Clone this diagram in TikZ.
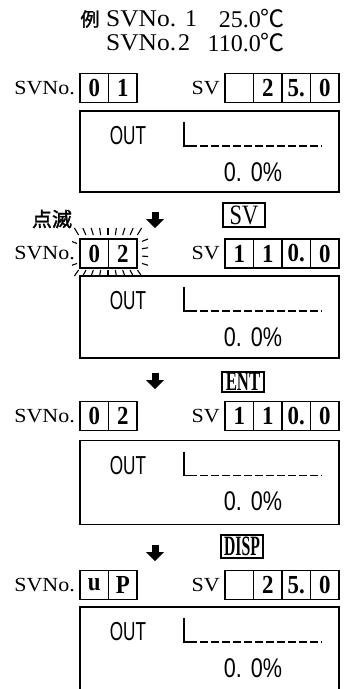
\documentclass[tikz,border=0pt]{standalone}
\usepackage{fontspec}
\usepackage{graphicx}
\setmainfont[FakeStretch=1.1]{Liberation Serif}
\newfontfamily\plainserif{Liberation Serif}
\newfontfamily\cellserif[FakeStretch=0.88]{Liberation Serif}
\newfontfamily\ttlserif[FakeStretch=1.06]{Liberation Serif}
\newfontfamily\lcd[FakeStretch=0.66]{Liberation Sans}
\newfontfamily\lcdnum[FakeStretch=0.8]{Liberation Sans}
\newfontfamily\cjk{Noto Sans CJK JP}
\newfontfamily\cjkb[FakeBold=1.5]{Noto Sans CJK JP}
\tikzset{
  cell/.style={draw, line width=1.2pt, minimum width=28.5pt, minimum height=29pt, inner sep=0pt,
    font=\cellserif\bfseries\fontsize{26}{26}\selectfont},
  disp/.style={draw, line width=1.3pt, minimum width=259pt, inner sep=0pt},
  btn/.style={draw, line width=1.2pt, minimum width=42pt, inner sep=0pt,
    font=\plainserif\fontsize{28}{28}\selectfont},
  rowlbl/.style={inner sep=0pt, font=\fontsize{20}{20}\selectfont},
  ttl/.style={inner sep=0pt, font=\ttlserif\fontsize{24}{24}\selectfont},
  ttlnum/.style={inner sep=0pt, font=\plainserif\fontsize{24}{24}\selectfont},
  outtxt/.style={inner sep=0pt, font=\lcd\fontsize{26}{26}\selectfont},
  pcttxt/.style={inner sep=0pt, font=\lcdnum\fontsize{27}{27}\selectfont},
  lbar/.style={line width=1.2pt},
  ldash/.style={line width=1.2pt, dash pattern=on 8pt off 3pt},
  tick/.style={line width=1.1pt},
  darrow/.pic={\fill (-3.5,0) rectangle (3.5,7); \fill (-9,7) -- (9,7) -- (0,16) -- cycle;}
}
\newcommand{\dispcontent}[2]{%
  \begin{scope}[shift={(80,#1)}]
    \node[outtxt] (o#2) at (48,25) {OUT};
    \draw[lbar] (104,11) -- (104,35) -- (117,35);
    \draw[ldash] (120,35) -- (242,35);
    \node[pcttxt] (p#2) at (173,61) {0.\,\,0\%};
  \end{scope}}
\newcommand{\svrow}[8]{%
  \node[rowlbl, anchor=east] (lbn#1) at (75,#2) {SVNo.};
  \node[cell] (a#1) at (94.25,#2) {#3};
  \node[cell] (b#1) at (122.75,#2) {#4};
  \node[rowlbl, anchor=east] (lbs#1) at (220,#2) {SV};
  \node[cell] (s#1a) at (239.25,#2) {#5};
  \node[cell] (s#1b) at (267.75,#2) {#6};
  \node[cell] (s#1c) at (296.25,#2) {#7};
  \node[cell] (s#1d) at (324.75,#2) {#8};}
\begin{document}
\begin{tikzpicture}[x=1pt, y=-1pt]
\useasboundingbox (0,0) rectangle (344,689);
% title
\node[inner sep=0pt, font=\cjkb\fontsize{19}{19}\selectfont] (ex) at (90,19) {例};
\node[ttl, anchor=west] (t1) at (106,19) {SVNo.};
\node[ttlnum] (n1) at (191,19) {1};
\node[ttlnum, anchor=east] (v1) at (285,19) {25.0{\cjk ℃}};
\node[ttl, anchor=west] (t2) at (106,43) {SVNo.};
\node[ttlnum] (n2) at (184,43) {2};
\node[ttlnum, anchor=east] (v2) at (285,43) {110.0{\cjk ℃}};
% row 1
\svrow{1}{88}{0}{1}{}{2}{5.}{0}
\node[disp, minimum height=81pt] (d1) at (209.5,151.5) {};
\dispcontent{111}{1}
% step 1
\pic at (155,212) {darrow};
\node[btn, minimum height=24pt] (k1) at (244,215) {\scalebox{0.8}[1]{SV}};
\node[inner sep=0pt, font=\cjkb\fontsize{20}{20}\selectfont] (blink) at (52,219) {点滅};
% row 2
\svrow{2}{253.5}{0}{2}{1}{1}{0.}{0}
\foreach \x in {80,87,94,101,108,115,122,129,136}
  \draw[tick] ({\x+(\x-108)*0.05},235) -- ({\x+(\x-108)*0.2},228);
\foreach \x in {80,87,94,101,108,115,122,129,136}
  \draw[tick] ({\x+(\x-108)*0.05},270) -- ({\x+(\x-108)*0.2},276);
\foreach \y in {242,249,256,263}
  \draw[tick] (142,{\y+(\y-254)*0.05}) -- (148,{\y+(\y-254)*0.25});
\foreach \y in {244,263}
  \draw[tick] (77,{\y+(\y-254)*0.05}) -- (72,{\y+(\y-254)*0.25});
\node[disp, minimum height=82pt] (d2) at (209.5,317) {};
\dispcontent{276}{2}
% step 2
\pic at (155,373) {darrow};
\node[btn, minimum height=20pt, font=\plainserif\bfseries\fontsize{27}{27}\selectfont] (k2) at (243,382) {\scalebox{0.62}[1]{ENT}};
% row 3
\svrow{3}{416}{0}{2}{1}{1}{0.}{0}
\node[disp, minimum height=84pt] (d3) at (209.5,482.5) {};
\dispcontent{440.5}{3}
% step 3
\pic at (155,545) {darrow};
\node[btn, minimum height=23pt, font=\plainserif\bfseries\fontsize{28}{28}\selectfont] (k3) at (242,546.5) {\scalebox{0.56}[1]{DISP}};
% row 4
\svrow{4}{585}{u}{P}{}{2}{5.}{0}
\node[disp, minimum height=90pt] (d4) at (209.5,652) {};
\dispcontent{607}{4}
\end{tikzpicture}
\end{document}
